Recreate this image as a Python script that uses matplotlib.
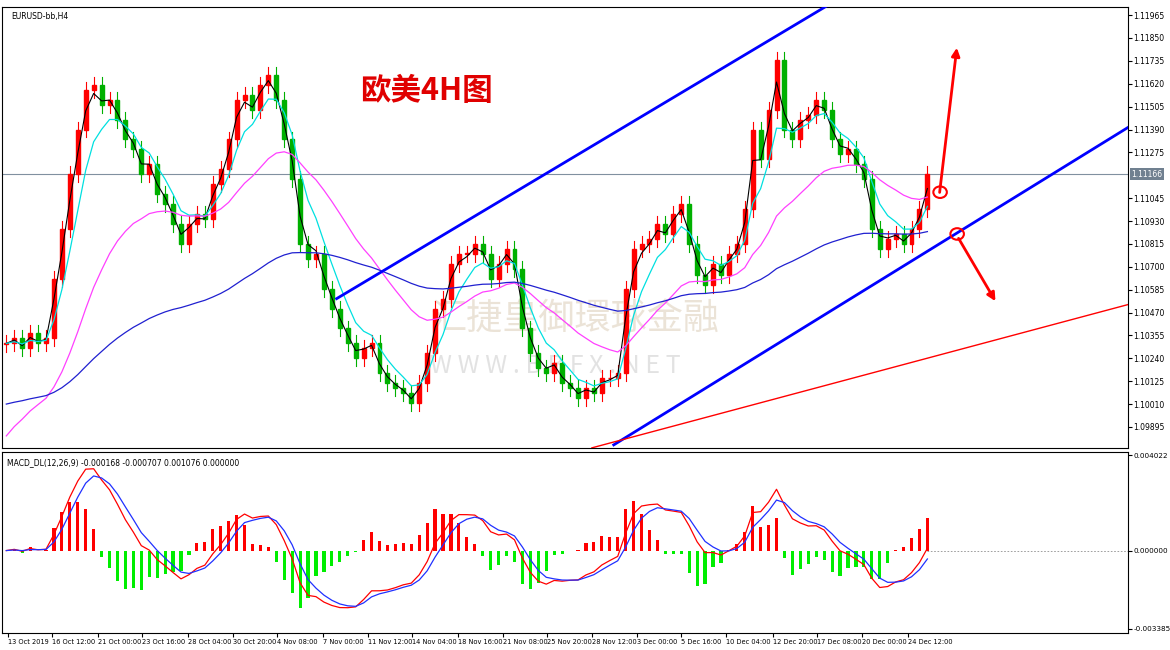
import numpy as np
import matplotlib
matplotlib.use("Agg")
import matplotlib.pyplot as plt
from matplotlib.patches import Rectangle, Ellipse

plt.rcParams['font.family'] = ['Noto Sans CJK SC', 'DejaVu Sans']

closes = [1.10315,1.1034,1.1029,1.10365,1.10315,1.1034,1.1064,1.1089,1.11165,1.1139,
1.1159,1.11615,1.11515,1.1154,1.1144,1.1134,1.1129,1.11165,1.11215,1.11065,
1.11015,1.10915,1.10815,1.10915,1.10965,1.1094,1.11115,1.1119,1.1134,1.1154,
1.11565,1.1149,1.11615,1.11665,1.1154,1.1134,1.1114,1.10815,1.1074,1.10765,
1.1059,1.1049,1.1039,1.10315,1.1024,1.1029,1.10315,1.10165,1.10115,1.1009,
1.10065,1.10015,1.10115,1.10265,1.1049,1.1054,1.10715,1.10765,1.10765,1.10815,
1.10765,1.1064,1.10715,1.1079,1.1069,1.1039,1.10265,1.1019,1.10165,1.10215,
1.10115,1.1009,1.1004,1.1009,1.10065,1.1014,1.1014,1.10165,1.1059,1.1079,
1.10815,1.1084,1.10915,1.10865,1.10965,1.11015,1.10815,1.1066,1.1061,1.10715,
1.1066,1.10765,1.10815,1.1099,1.1139,1.1124,1.1149,1.1174,1.1139,1.1134,
1.1144,1.11465,1.1154,1.1149,1.1134,1.11265,1.1129,1.11215,1.1114,1.1089,
1.1079,1.1084,1.10865,1.10815,1.1089,1.1099,1.11165]
first_open = 1.1031
wick = 0.0004

tick_pos = [0.2, 5.75, 11.5, 17.1, 22.9, 28.6, 34.1, 39.9, 45.5, 51.1, 56.9, 62.5, 68.1, 73.75,
            79.4, 85.0, 90.6, 96.5, 102.1, 107.75, 113.5]
tick_labels = ["13 Oct 2019","16 Oct 12:00","21 Oct 00:00","23 Oct 16:00","28 Oct 04:00",
               "30 Oct 20:00","4 Nov 08:00","7 Nov 00:00","11 Nov 12:00","14 Nov 04:00",
               "18 Nov 16:00","21 Nov 08:00","25 Nov 20:00","28 Nov 12:00","3 Dec 00:00",
               "5 Dec 16:00","10 Dec 04:00","12 Dec 20:00","17 Dec 08:00","20 Dec 00:00",
               "24 Dec 12:00"]
price_ticks = [1.11965,1.11850,1.11735,1.11620,1.11505,1.11390,1.11275,1.11045,1.10930,
               1.10815,1.10700,1.10585,1.10470,1.10355,1.10240,1.10125,1.10010,1.09895]
last_price = 1.11166

# trend lines (index, price)
blue_up = ([41.6, 103.7], [1.1054, 1.1202])
blue_lo = ([76.5, 141.25], [1.09805, 1.1140])
red_line = ([73.75, 141.25], [1.0979, 1.1051])
arrow_up = ((117.5, 1.1106), (119.75, 1.11815))
arrow_dn = ((119.75, 1.10855), (124.75, 1.10515))
circles = [(117.6, 1.11075), (119.75, 1.10865)]

YLO, YHI = 1.0979, 1.12005
c = np.array(closes)
n = len(c)
o = np.r_[first_open, c[:-1]]
hi = np.maximum(o, c) + wick
lo = np.minimum(o, c) - wick
x = np.arange(n)

def ema(v, span, seed=None):
    a = 2 / (span + 1)
    out = np.empty(len(v))
    out[0] = v[0] if seed is None else seed
    for i in range(1, len(v)):
        out[i] = out[i-1] + a * (v[i] - out[i-1])
    return out

fig = plt.figure(figsize=(11.7, 6.5), dpi=100)
ax = fig.add_axes([0.002, 0.311, 0.962, 0.678])
ax2 = fig.add_axes([0.002, 0.026, 0.962, 0.278])

for i in range(n):
    col = '#ff0000' if c[i] >= o[i] else '#00b000'
    ax.plot([x[i], x[i]], [lo[i], hi[i]], color=col, lw=0.8, zorder=3)
    ax.add_patch(Rectangle((x[i]-0.25, min(o[i], c[i])), 0.5, max(abs(c[i]-o[i]), 0.00003),
                           color=col, zorder=3))

ax.plot(x, ema(c, 2), color='black', lw=0.8, zorder=4)
ax.plot(x, ema(c, 5), color='#00e0e0', lw=0.9, zorder=4)
ax.plot(x, ema(c, 20, 1.0985), color='#ff40ff', lw=0.9, zorder=4)
ax.plot(x, ema(c, 70, 1.1001), color='#2020d0', lw=0.9, zorder=4)

ax.axhline(last_price, color='#8090a0', lw=0.8)
ax.plot(*blue_up, color='#0000ff', lw=2, zorder=5)
ax.plot(*blue_lo, color='#0000ff', lw=2, zorder=5)
ax.plot(*red_line, color='#ff0000', lw=1, zorder=5)
for s, e in (arrow_up, arrow_dn):
    ax.annotate('', xy=e, xytext=s, arrowprops=dict(arrowstyle='-|>', color='red', lw=2,
                mutation_scale=12), zorder=6)
for cx, cy in circles:
    ax.add_patch(Ellipse((cx, cy), 1.7, 0.00058, fill=False, ec='red', lw=1.5, zorder=6))

ax.text(0.318, 0.79, '欧美4H图', transform=ax.transAxes, color='#e00000', fontsize=22,
        fontweight='bold')
ax.text(0.38, 0.27, '汇捷皇御環球金融', transform=ax.transAxes, color='#d8c8b0', alpha=0.5,
        fontsize=26, zorder=2)
ax.text(0.38, 0.17, 'W W W . B B F X . N E T', transform=ax.transAxes, color='#d0d0d0',
        alpha=0.6, fontsize=18, zorder=2)
ax.text(0.008, 0.99, 'EURUSD-bb,H4', transform=ax.transAxes, fontsize=5.5, va='top',
        family='DejaVu Sans')

ax.set_xlim(-0.5, 141.25)
ax.set_ylim(YLO, YHI)
ax.yaxis.tick_right()
ax.set_yticks(price_ticks)
ax.set_yticklabels([f'{p:.5f}' for p in price_ticks], fontsize=5.5, family='DejaVu Sans')
ax.text(1.003, (last_price-YLO)/(YHI-YLO), f'{last_price:.5f}', transform=ax.transAxes,
        fontsize=5.5, color='white', va='center', family='DejaVu Sans',
        bbox=dict(boxstyle='square,pad=0.15', fc='#708090', ec='none'))
ax.set_xticks([])
ax.tick_params(axis='y', length=3, pad=1)

macd = ema(c, 4) - ema(c, 9)
sig = ema(macd, 3)
hist = (macd - sig) * 3
ax2.bar(x, hist, width=0.4, color=np.where(hist >= 0, '#ff0000', '#00ee00'))
ax2.plot(x, macd, color='#ff0000', lw=0.9)
ax2.plot(x, sig, color='#2030ff', lw=0.9)
ax2.axhline(0, color='#909090', lw=0.6, ls=(0, (2, 2)), xmin=(n-0.5)/141.75)
ax2.set_xlim(-0.5, 141.25)
ax2.set_ylim(-0.00338, 0.00402)
ax2.yaxis.tick_right()
ax2.set_yticks([0.0039, 0.0, -0.0032])
ax2.set_yticklabels(['0.004022', '0.000000', '-0.003385'], fontsize=5.2, family='DejaVu Sans')
ax2.set_xticks(tick_pos)
ax2.set_xticklabels(tick_labels, fontsize=4.8, ha='left', family='DejaVu Sans')
ax2.tick_params(length=3, pad=1)
ax2.text(0.004, 0.97, 'MACD_DL(12,26,9) -0.000168 -0.000707 0.001076 0.000000',
         transform=ax2.transAxes, fontsize=5.5, va='top', family='DejaVu Sans')

fig.savefig('out.png', dpi=100)
